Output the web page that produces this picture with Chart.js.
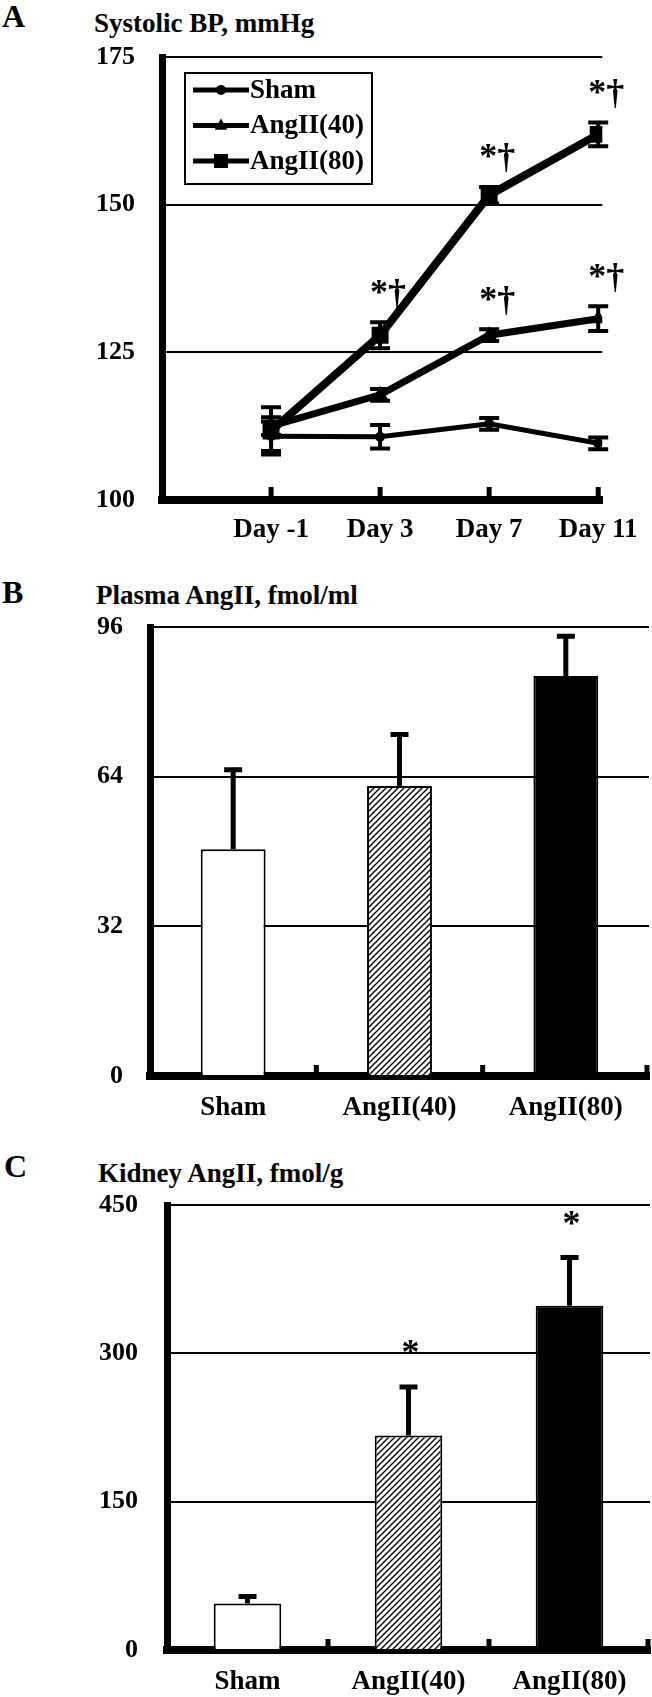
<!DOCTYPE html>
<html>
<head>
<meta charset="utf-8">
<script src="https://cdn.jsdelivr.net/npm/chart.js@4.4.1/dist/chart.umd.min.js"></script>
<style>
  body { margin: 0; background: #fff; width: 652px; height: 1697px; position: relative; overflow: hidden;
         font-family: 'Liberation Serif', 'Times New Roman', serif; font-weight: bold; color: #000; }
  .lbl { position: absolute; line-height: 1; white-space: nowrap; }
  .panel { position: absolute; left: 0; width: 652px; }
</style>
</head>
<body>
<div class="lbl" style="left:2px;top:0px;font-size:32px">A</div>
<div class="lbl" style="left:94px;top:10px;font-size:27px">Systolic BP, mmHg</div>
<div class="panel" style="top:10px;height:550px"><canvas id="bpChart"></canvas></div>

<div class="lbl" style="left:2px;top:576px;font-size:32px">B</div>
<div class="lbl" style="left:96px;top:582px;font-size:27px">Plasma AngII, fmol/ml</div>
<div class="panel" style="top:580px;height:560px"><canvas id="plasmaChart"></canvas></div>

<div class="lbl" style="left:4px;top:1150px;font-size:32px">C</div>
<div class="lbl" style="left:98px;top:1160px;font-size:27px">Kidney AngII, fmol/g</div>
<div class="panel" style="top:1160px;height:537px"><canvas id="kidneyChart"></canvas></div>

<script>
// panel A - systolic BP
const days = [-1, 3, 7, 11];
const dayLabels = ['Day -1', 'Day 3', 'Day 7', 'Day 11'];
const bpTicks = [100, 125, 150, 175];
const shamBP = [110.8, 110.7, 112.9, 109.6];
const shamBPErr = [2.5, 2, 1, 1];
const ang40BP = [112.5, 117.8, 127.9, 130.7];
const ang40BPErr = [1.5, 1, 1, 2.1];
const ang80BP = [111.7, 127.9, 151.6, 161.9];
const ang80BPErr = [4, 2.2, 1.4, 2];
const ang40Marks = ['', '', '*†', '*†'];
const ang80Marks = ['', '*†', '*†', '*†'];

// panels B and C
const groups = ['Sham', 'AngII(40)', 'AngII(80)'];
const plasmaTicks = [0, 32, 64, 96];
const plasmaAngII = [48.5, 62, 85.5];
const plasmaAngIIErr = [17, 11, 8.5];
const kidneyTicks = [0, 150, 300, 450];
const kidneyAngII = [47, 217, 348];
const kidneyAngIIErr = [7, 49, 49];
const kidneyMarks = ['', '*', '*'];

const serif = "'Liberation Serif', 'Times New Roman', serif";
Chart.defaults.font.family = serif;
Chart.defaults.font.weight = 'bold';
Chart.defaults.color = '#000';

function hatchFor(canvasId) {
    const c = document.createElement('canvas');
    c.width = 6;
    c.height = 6;
    const g = c.getContext('2d');
    g.fillStyle = '#fff';
    g.fillRect(0, 0, 6, 6);
    g.strokeStyle = '#000';
    g.lineWidth = 1.4;
    g.beginPath();
    g.moveTo(0, 6); g.lineTo(6, 0);
    g.moveTo(-3, 3); g.lineTo(3, -3);
    g.moveTo(3, 9); g.lineTo(9, 3);
    g.stroke();
    return document.getElementById(canvasId).getContext('2d').createPattern(c, 'repeat');
}

function drawMarker(ctx, style, x, y, r) {
    ctx.beginPath();
    if (style === 'circle') {
        ctx.arc(x, y, r, 0, Math.PI * 2);
    } else if (style === 'triangle') {
        ctx.moveTo(x, y - r);
        ctx.lineTo(x + r * 0.9, y + r * 0.6);
        ctx.lineTo(x - r * 0.9, y + r * 0.6);
        ctx.closePath();
    } else {
        ctx.rect(x - r, y - r, 2 * r, 2 * r);
    }
    ctx.fill();
}

// SEM bars + significance marks, drawn from the y scale
const errorBars = {
    id: 'errorBars',
    afterDatasetsDraw(chart, args, opts) {
        const ctx = chart.ctx;
        const yScale = chart.scales.y;
        ctx.save();
        ctx.strokeStyle = '#000';
        ctx.fillStyle = '#000';
        chart.data.datasets.forEach((ds, di) => {
            if (!ds.errors) return;
            const meta = chart.getDatasetMeta(di);
            meta.data.forEach((el, i) => {
                const v = typeof ds.data[i] === 'object' ? ds.data[i].y : ds.data[i];
                const top = yScale.getPixelForValue(v + ds.errors[i]);
                const bottom = opts.oneSided ? el.y : yScale.getPixelForValue(v - ds.errors[i]);
                ctx.lineWidth = opts.lineWidth;
                ctx.beginPath();
                ctx.moveTo(el.x, bottom);
                ctx.lineTo(el.x, top);
                ctx.moveTo(el.x - opts.cap / 2, top);
                ctx.lineTo(el.x + opts.cap / 2, top);
                if (!opts.oneSided) {
                    ctx.moveTo(el.x - opts.cap / 2, bottom);
                    ctx.lineTo(el.x + opts.cap / 2, bottom);
                }
                ctx.stroke();
                if (ds.marks && ds.marks[i]) {
                    ctx.font = 'bold ' + opts.markSize + 'px ' + serif;
                    ctx.textAlign = 'center';
                    ctx.textBaseline = 'middle';
                    ctx.fillText(ds.marks[i], el.x + opts.markDx, top - opts.markGap);
                }
            });
        });
        ctx.restore();
    }
};

// short tick marks standing up from the x axis
const innerTicks = {
    id: 'innerTicks',
    afterDraw(chart, args, opts) {
        const ctx = chart.ctx;
        const xs = chart.scales.x;
        const bottom = chart.chartArea.bottom;
        let pos = [];
        if (opts.between) {
            for (let i = 0; i < groups.length - 1; i++) {
                pos.push((xs.getPixelForValue(i) + xs.getPixelForValue(i + 1)) / 2);
            }
            pos.push(chart.chartArea.right - 2);
        } else {
            pos = days.map(d => xs.getPixelForValue(d));
        }
        ctx.save();
        ctx.strokeStyle = '#000';
        ctx.lineWidth = opts.width;
        pos.forEach(x => {
            ctx.beginPath();
            ctx.moveTo(x, bottom);
            ctx.lineTo(x, bottom - opts.length);
            ctx.stroke();
        });
        ctx.restore();
    }
};

// boxed legend inside panel A
const boxLegend = {
    id: 'boxLegend',
    afterDraw(chart, args, opts) {
        if (!opts.show) return;
        const ctx = chart.ctx;
        ctx.save();
        ctx.strokeStyle = '#000';
        ctx.fillStyle = '#000';
        ctx.lineWidth = 2;
        ctx.strokeRect(opts.x, opts.y, opts.w, opts.h);
        ctx.font = 'bold 27px ' + serif;
        ctx.textAlign = 'left';
        ctx.textBaseline = 'middle';
        chart.data.datasets.forEach((ds, i) => {
            const y = opts.y + 17 + i * 35.5;
            ctx.lineWidth = 5;
            ctx.beginPath();
            ctx.moveTo(opts.x + 8, y);
            ctx.lineTo(opts.x + 64, y);
            ctx.stroke();
            drawMarker(ctx, ds.pointStyle, opts.x + 36, y, ds.pointStyle === 'circle' ? 5 : 7);
            ctx.fillText(ds.label, opts.x + 65, y + 1);
        });
        ctx.restore();
    }
};

function pts(vals) {
    return days.map((d, i) => ({ x: d, y: vals[i] }));
}

new Chart(document.getElementById('bpChart'), {
    type: 'line',
    plugins: [errorBars, innerTicks, boxLegend],
    data: {
        datasets: [
            { label: 'Sham', data: pts(shamBP), errors: shamBPErr, pointStyle: 'circle', pointRadius: 5, borderWidth: 5 },
            { label: 'AngII(40)', data: pts(ang40BP), errors: ang40BPErr, marks: ang40Marks, pointStyle: 'triangle', pointRadius: 9, borderWidth: 7 },
            { label: 'AngII(80)', data: pts(ang80BP), errors: ang80BPErr, marks: ang80Marks, pointStyle: 'rect', pointRadius: 12, borderWidth: 8 }
        ].map(ds => Object.assign(ds, {
            borderColor: '#000', backgroundColor: '#000', pointBackgroundColor: '#000',
            pointBorderColor: '#000', pointBorderWidth: 0, tension: 0, fill: false
        }))
    },
    options: {
        animation: false,
        responsive: true,
        maintainAspectRatio: false,
        layout: { padding: { top: 47, right: 45, left: 0, bottom: 0 } },
        plugins: {
            legend: { display: false },
            tooltip: { enabled: false },
            errorBars: { cap: 20, lineWidth: 4, oneSided: false, markSize: 36, markDx: 8, markGap: 28 },
            innerTicks: { between: false, width: 5, length: 13 },
            boxLegend: { show: true, x: 185, y: 63, w: 187, h: 111 }
        },
        scales: {
            x: {
                type: 'linear', min: -5, max: 11.15,
                afterBuildTicks: s => { s.ticks = days.map(v => ({ value: v })); },
                afterFit: s => { s.height = 60; },
                ticks: { callback: v => dayLabels[days.indexOf(v)], padding: 14, font: { size: 27 }, maxRotation: 0, autoSkip: false },
                grid: { display: false, drawTicks: false },
                border: { width: 8, color: '#000' }
            },
            y: {
                min: 100, max: 175,
                afterBuildTicks: s => { s.ticks = bpTicks.map(v => ({ value: v })); },
                afterFit: s => { s.width = 162; },
                ticks: { padding: 27, font: { size: 26 } },
                grid: { color: '#000', lineWidth: 2, drawTicks: false },
                border: { width: 7, color: '#000' }
            }
        }
    }
});

function barChart(id, values, errs, marks, ticks, max, geo) {
    return new Chart(document.getElementById(id), {
        type: 'bar',
        plugins: [errorBars, innerTicks],
        data: {
            labels: groups,
            datasets: [{
                data: values, errors: errs, marks: marks,
                backgroundColor: ['#fff', hatchFor(id), '#000'],
                borderColor: '#000', borderWidth: 2,
                barPercentage: geo.bar, categoryPercentage: 1
            }]
        },
        options: {
            animation: false,
            responsive: true,
            maintainAspectRatio: false,
            layout: { padding: { top: geo.top, right: geo.right, left: 0, bottom: 0 } },
            plugins: {
                legend: { display: false },
                tooltip: { enabled: false },
                errorBars: { cap: 18, lineWidth: 5, oneSided: true, markSize: 36, markDx: 2, markGap: 32 },
                innerTicks: { between: true, width: 5, length: 11 }
            },
            scales: {
                x: {
                    afterFit: s => { s.height = geo.xh; },
                    ticks: { padding: geo.xpad, font: { size: 27 }, maxRotation: 0, autoSkip: false },
                    grid: { display: false, drawTicks: false },
                    border: { width: 8, color: '#000' }
                },
                y: {
                    min: 0, max: max,
                    afterBuildTicks: s => { s.ticks = ticks.map(v => ({ value: v })); },
                    afterFit: s => { s.width = geo.left; },
                    ticks: { padding: geo.ypad, font: { size: 26 } },
                    grid: { color: '#000', lineWidth: 2, drawTicks: false },
                    border: { width: 7, color: '#000' }
                }
            }
        }
    });
}

barChart('plasmaChart', plasmaAngII, plasmaAngIIErr, null, plasmaTicks, 96,
    { top: 47, right: 3, left: 150, xh: 64, xpad: 16, ypad: 27, bar: 0.39 });
barChart('kidneyChart', kidneyAngII, kidneyAngIIErr, kidneyMarks, kidneyTicks, 450,
    { top: 45, right: 2, left: 167, xh: 47, xpad: 16, ypad: 29, bar: 0.42 });
</script>
</body>
</html>
